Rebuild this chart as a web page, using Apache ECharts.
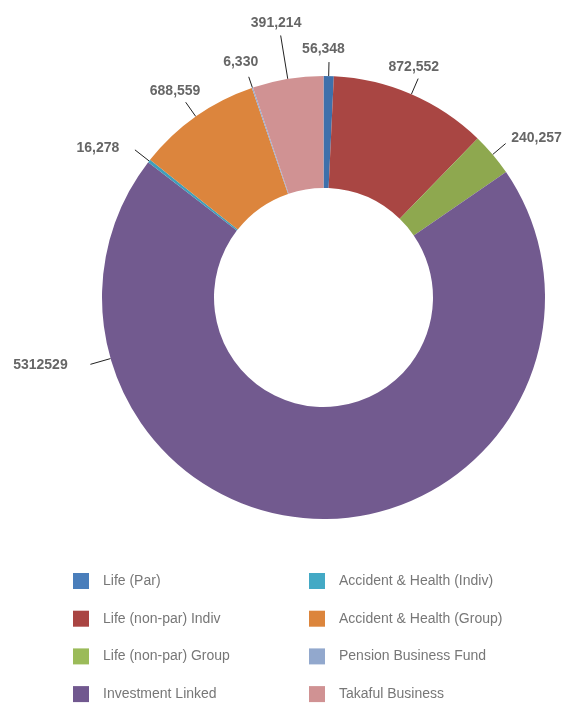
<!DOCTYPE html>
<html>
<head>
<meta charset="utf-8">
<script src="https://cdn.jsdelivr.net/npm/echarts@6/dist/echarts.min.js"></script>
<style>
html,body{margin:0;padding:0;background:#fff;}
#chart{width:573px;height:705px;}
</style>
</head>
<body>
<div id="chart"></div>
<script>
// ---- data ----
const categories = ['Life (Par)', 'Life (non-par) Indiv', 'Life (non-par) Group', 'Investment Linked',
  'Accident & Health (Indiv)', 'Accident & Health (Group)', 'Pension Business Fund', 'Takaful Business'];
const values = [56348, 872552, 240257, 5312529, 16278, 688559, 6330, 391214];
const valueLabels = ['56,348', '872,552', '240,257', '5312529', '16,278', '688,559', '6,330', '391,214'];
const legendLeft = ['Life (Par)', 'Life (non-par) Indiv', 'Life (non-par) Group', 'Investment Linked'];
const legendRight = ['Accident & Health (Indiv)', 'Accident & Health (Group)', 'Pension Business Fund', 'Takaful Business'];

// ---- styles ----
const sliceColors = ['#3e70ab', '#a94643', '#8ea84f', '#725a8f', '#3f9fbb', '#dc853d', '#93a9cf', '#d09293'];
const legendColors = ['#4a7ebb', '#a94442', '#9bbb59', '#71588f', '#43a9c5', '#dc853c', '#92a8cd', '#d09293'];
const CX = 323.5, CY = 297.5, R_OUT = 221.5, R_IN = 109.5;
const labelAngle = [0, 21.4, 53.2, 256.6, 303.5, 324.3, 340.6, 350.2];
const labelDist = [248.5, 247.6, 266, 291, 270.6, 254.3, 249.3, 278.3];
const lineAngleOverride = {3: 254};
const lineLen = [14, 17, 17, 21, 18, 17.5, 11.5, 44];
const FONT = "'Liberation Sans', Arial, sans-serif";

const total = values.reduce((a, b) => a + b, 0);
const midAngles = [];
let acc = 0;
values.forEach(v => { midAngles.push((acc + v / 2) / total * 360); acc += v; });
function polar(aDeg, d) {
  const a = aDeg * Math.PI / 180;
  return [CX + d * Math.sin(a), CY - d * Math.cos(a)];
}

const colorOf = {};
categories.forEach((c, i) => colorOf[c] = legendColors[i]);

const chart = echarts.init(document.getElementById('chart'), null, {renderer: 'canvas'});
const legendCommon = {
  orient: 'vertical',
  top: 573,
  padding: 0,
  icon: 'rect',
  itemWidth: 16,
  itemHeight: 16,
  itemGap: 21.7,
  selectedMode: false,
  textStyle: {fontFamily: FONT, fontSize: 14, color: '#777', lineHeight: 16, padding: [0, 0, 0, 9]}
};
chart.setOption({
  animation: false,
  backgroundColor: '#fff',
  legend: [
    Object.assign({}, legendCommon, {left: 73, data: legendLeft.map(n => ({name: n, itemStyle: {color: colorOf[n]}}))}),
    Object.assign({}, legendCommon, {left: 309, data: legendRight.map(n => ({name: n, itemStyle: {color: colorOf[n]}}))})
  ],
  series: [{
    type: 'pie',
    center: [CX, CY],
    radius: [R_IN, R_OUT],
    startAngle: 90,
    clockwise: true,
    minAngle: 0,
    avoidLabelOverlap: false,
    emphasis: {disabled: true},
    itemStyle: {borderWidth: 0},
    label: {
      show: true,
      position: 'outside',
      formatter: p => valueLabels[p.dataIndex],
      fontFamily: FONT,
      fontSize: 14,
      fontWeight: 'bold',
      color: '#666'
    },
    labelLine: {show: true, length: 15, length2: 0, lineStyle: {color: '#222', width: 1}},
    labelLayout: function (p) {
      const i = p.dataIndex;
      const la = (lineAngleOverride[i] !== undefined) ? lineAngleOverride[i] : midAngles[i];
      const p0 = polar(la, R_OUT);
      const p1 = polar(la, R_OUT + lineLen[i]);
      const c = polar(labelAngle[i], labelDist[i]);
      return {x: c[0], y: c[1], align: 'center', verticalAlign: 'middle', labelLinePoints: [p0, p1, p1]};
    },
    data: categories.map((c, i) => ({name: c, value: values[i], itemStyle: {color: sliceColors[i]}}))
  }]
});
</script>
</body>
</html>
